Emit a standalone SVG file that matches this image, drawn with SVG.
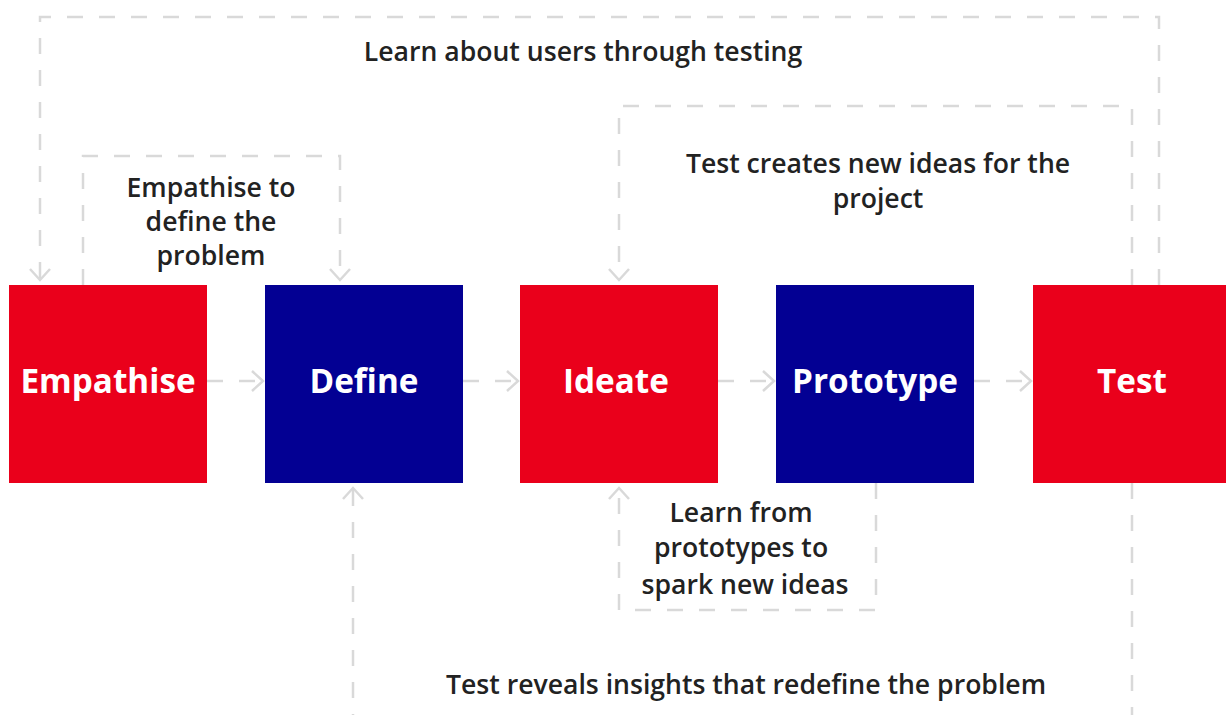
<svg xmlns="http://www.w3.org/2000/svg" width="1226" height="715" viewBox="0 0 1226 715">
<style>
.red{fill:#ea001b}
.blue{fill:#030093}
.nl{font-family:"Open Sans","Liberation Sans",sans-serif;font-weight:700;font-size:33.3px;fill:#fff;text-anchor:middle}
.lb{font-family:"Open Sans","Liberation Sans",sans-serif;font-weight:600;font-size:26.6px;fill:#222;text-anchor:middle}
.c{fill:none;stroke:#d9d9d9;stroke-width:2.5;stroke-dasharray:16 16}
</style>
<defs>
<marker id="ah" markerUnits="userSpaceOnUse" markerWidth="30" markerHeight="30" viewBox="-15 -15 30 30" refX="0" refY="0" orient="auto">
<path d="M-11,-10 L0,0 L-11,10" fill="none" stroke="#d9d9d9" stroke-width="2.5"/>
</marker>
</defs>
<g id="connectors">
<path class="c" d="M207,381 H263" marker-end="url(#ah)"/>
<path class="c" d="M463,381 H518" marker-end="url(#ah)"/>
<path class="c" d="M718,381 H774" marker-end="url(#ah)"/>
<path class="c" d="M974,381 H1031" marker-end="url(#ah)"/>
<path class="c" d="M1159,285 V17 H40 V280" marker-end="url(#ah)"/>
<path class="c" d="M83,285 V156 H340 V280" marker-end="url(#ah)"/>
<path class="c" d="M1132,285 V106 H619 V280" marker-end="url(#ah)"/>
<path class="c" d="M876,483 V610 H619 V488" marker-end="url(#ah)"/>
<path class="c" d="M1132,483 V730 M353,730 V488" marker-end="url(#ah)"/>
</g>
<g id="empathise"><rect class="red" x="9" y="285" width="198" height="198"/><text class="nl" x="108" y="393">Empathise</text></g>
<g id="define"><rect class="blue" x="265" y="285" width="198" height="198"/><text class="nl" x="364" y="393">Define</text></g>
<g id="ideate"><rect class="red" x="520" y="285" width="198" height="198"/><text class="nl" x="616" y="393">Ideate</text></g>
<g id="prototype"><rect class="blue" x="776" y="285" width="198" height="198"/><text class="nl" x="875" y="393">Prototype</text></g>
<g id="test"><rect class="red" x="1033" y="285" width="198" height="198"/><text class="nl" x="1132" y="393">Test</text></g>
<g id="labels">
<text class="lb" x="583" y="61">Learn about users through testing</text>
<text class="lb" x="211" y="197">Empathise to</text>
<text class="lb" x="211" y="231">define the</text>
<text class="lb" x="211" y="265">problem</text>
<text class="lb" x="878" y="173">Test creates new ideas for the</text>
<text class="lb" x="878" y="208">project</text>
<text class="lb" x="741" y="522">Learn from</text>
<text class="lb" x="741" y="557">prototypes to</text>
<text class="lb" x="745" y="594">spark new ideas</text>
<text class="lb" x="746" y="694">Test reveals insights that redefine the problem</text>
</g>
</svg>
